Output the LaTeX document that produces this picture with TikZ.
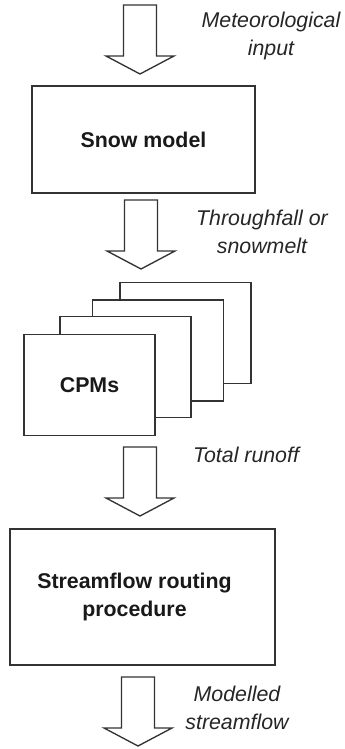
\documentclass[tikz,border=0pt]{standalone}
\usepackage{fontspec}
\setmainfont{Liberation Sans}
\usetikzlibrary{positioning}

\tikzset{
	box/.style={draw=black!80, line width=1pt, fill=white, text=black!90,
		font=\bfseries\fontsize{16}{21}\selectfont, align=center, inner sep=0pt},
	note/.style={text=black!85, font=\itshape\fontsize{16}{21}\selectfont, align=center},
	flowarrow/.pic={
		\draw[draw=black!80, line width=1pt, fill=white, line join=miter]
			(-16.5,0) -- (16.5,0) -- (16.5,51) -- (34,51) -- (0,69)
			-- (-34,51) -- (-16.5,51) -- cycle;
	}
}

\begin{document}
\begin{tikzpicture}[x=0.75pt, y=-0.75pt]
	\useasboundingbox (0,0) rectangle (344,749);

	% boxes
	\node[box, minimum width=167.25pt, minimum height=80.25pt] (snow) at (143.5,139.5) {Snow model};
	\node[box, minimum width=98.25pt, minimum height=75.75pt] (cpm4) at (185.5,333) {};
	\node[box, minimum width=98.25pt, minimum height=75.75pt] (cpm3) at (158,350.5) {};
	\node[box, minimum width=98.25pt, minimum height=75.75pt] (cpm2) at (125.5,367) {};
	\node[box, minimum width=98.25pt, minimum height=75.75pt] (cpm1) at (89.5,385) {CPMs};
	\node[box, minimum width=198.75pt, minimum height=102pt] (route) at (142.5,597)
		{\hspace*{-12pt}Streamflow routing\\\hspace*{-12pt}procedure};

	% block arrows
	\pic (in) at (140,5) {flowarrow};
	\pic (melt) at (141,200) {flowarrow};
	\pic (runoff) at (140,447) {flowarrow};
	\pic (out) at (138,677) {flowarrow};

	% labels
	\node[note] (metlabel) at (271,36) {Meteorological\\input};
	\node[note] (meltlabel) at (262,232) {Throughfall or\\snowmelt};
	\node[note] (runofflabel) at (246,455) {Total runoff};
	\node[note] (outlabel) at (237,708) {Modelled\\streamflow};
\end{tikzpicture}
\end{document}
